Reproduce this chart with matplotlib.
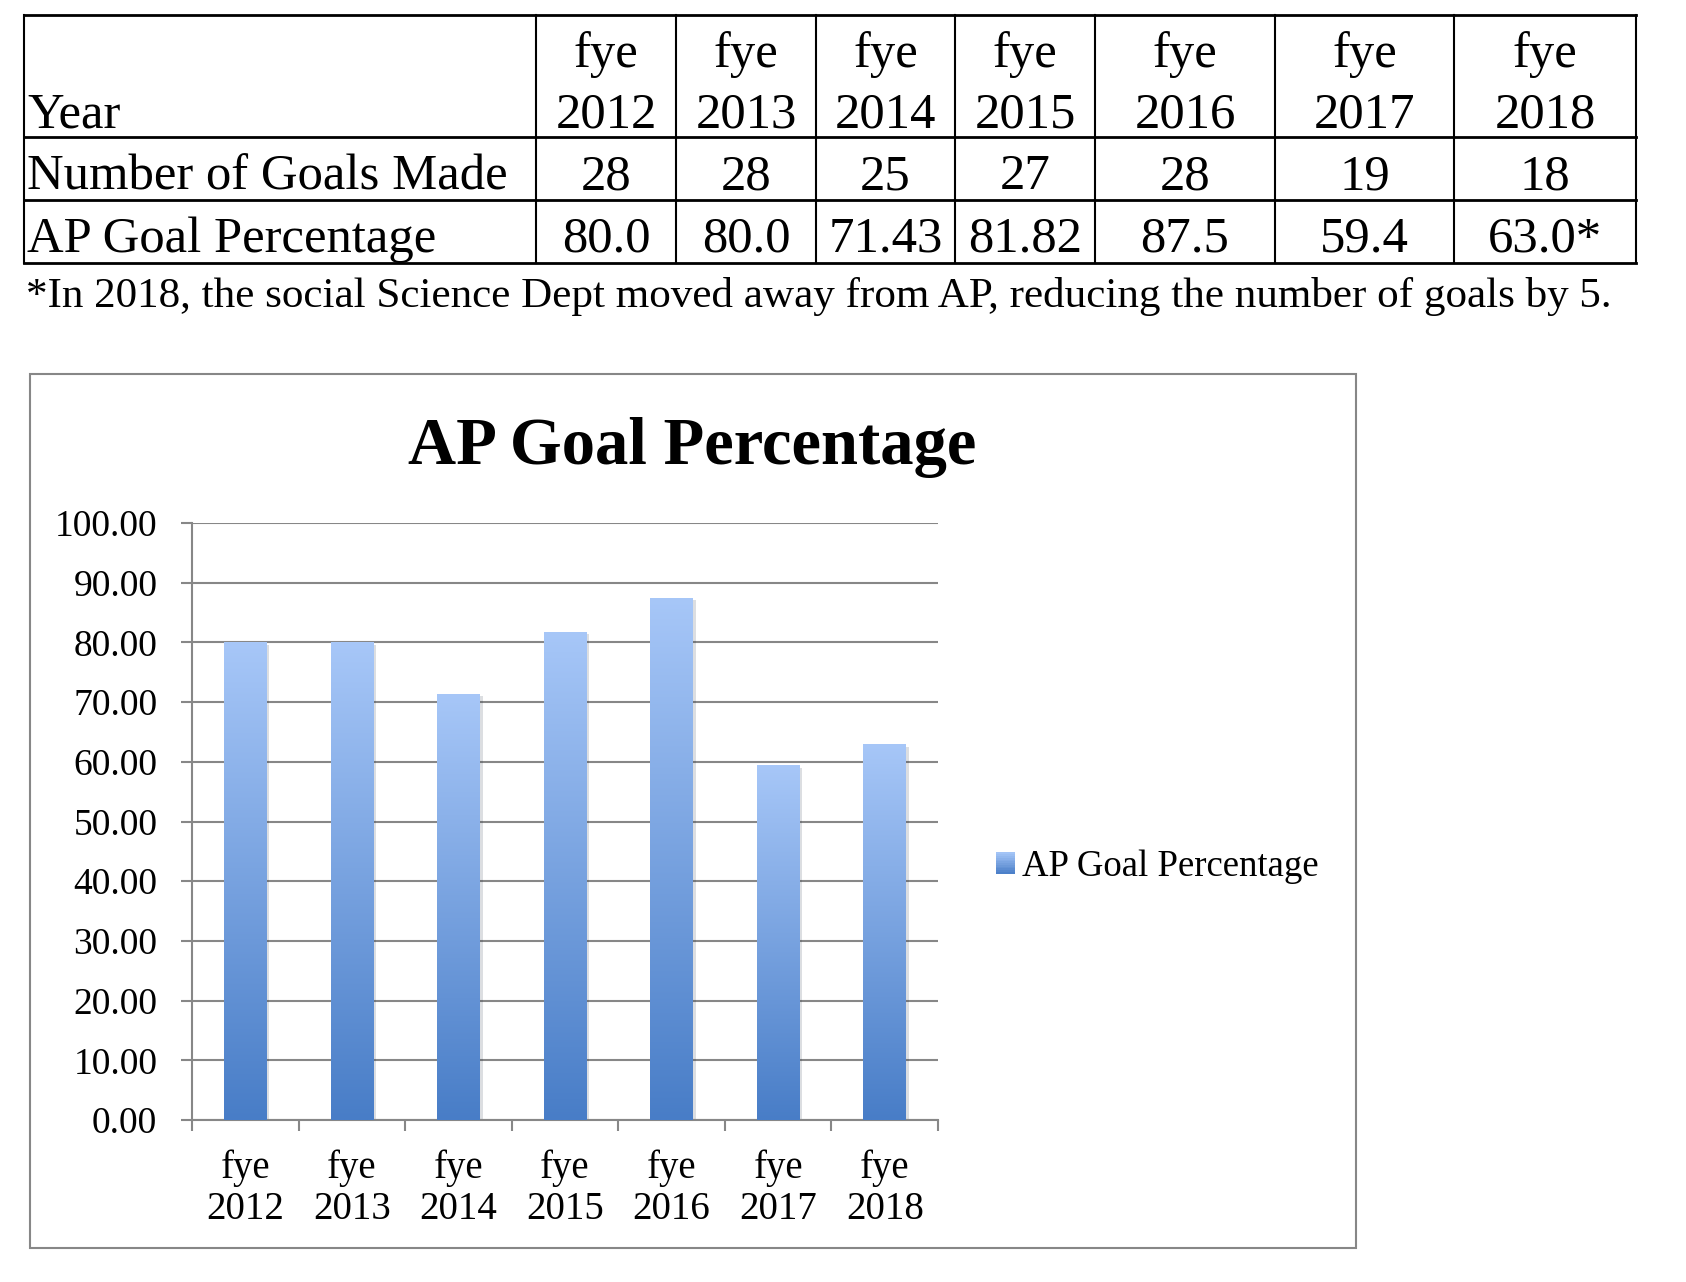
import matplotlib
matplotlib.use("Agg")
import matplotlib.pyplot as plt
import numpy as np
from matplotlib.patches import Rectangle
from matplotlib.legend_handler import HandlerPatch
from matplotlib import patheffects

years = ["2012", "2013", "2014", "2015", "2016", "2017", "2018"]
goals_made = ["28", "28", "25", "27", "28", "19", "18"]
pct_labels = ["80.0", "80.0", "71.43", "81.82", "87.5", "59.4", "63.0*"]
ap_pct = [80.0, 80.0, 71.43, 81.82, 87.5, 59.4, 63.0]
footnote = "*In 2018, the social Science Dept moved away from AP, reducing the number of goals by 5."

W, H = 1686, 1282
SERIF = "Liberation Serif"
TOP_C = np.array([0xA7, 0xC7, 0xF8]) / 255
BOT_C = np.array([0x48, 0x7D, 0xC7]) / 255
GRAY = "#878787"

fig = plt.figure(figsize=(W / 100, H / 100), dpi=100)

# ---- table drawn in pixel space ----
tab = fig.add_axes([0, 0, 1, 1])
tab.set_xlim(0, W)
tab.set_ylim(H, 0)
tab.axis("off")
tab.patch.set_alpha(0)

col_edges = [24, 536, 676, 816, 955, 1095, 1275, 1454, 1636]
row_edges = [15, 137, 200, 263]
for y in row_edges:
    tab.plot([col_edges[0], col_edges[-1]], [y, y], color="black", lw=2.0, solid_capstyle="projecting")
for x in col_edges:
    tab.plot([x, x], [row_edges[0], row_edges[-1]], color="black", lw=1.5)

fs = 36.5
tab.text(27, 127, "Year", fontsize=fs, family=SERIF, va="baseline")
tab.text(27, 189, "Number of Goals Made", fontsize=fs, family=SERIF, va="baseline")
tab.text(27, 252, "AP Goal Percentage", fontsize=fs, family=SERIF, va="baseline")
for i in range(len(years)):
    cx = (col_edges[i + 1] + col_edges[i + 2]) / 2
    tab.text(cx, 67, "fye", fontsize=fs, family=SERIF, ha="center", va="baseline")
    tab.text(cx, 127, years[i], fontsize=fs, family=SERIF, ha="center", va="baseline")
    tab.text(cx, 189, goals_made[i], fontsize=fs, family=SERIF, ha="center", va="baseline")
    tab.text(cx, 252, pct_labels[i], fontsize=fs, family=SERIF, ha="center", va="baseline")
tab.text(26, 307, footnote, fontsize=31.1, family=SERIF, va="baseline")

# chart frame
tab.add_patch(Rectangle((30, 374), 1356 - 30, 1248 - 374, fill=False, edgecolor=GRAY, lw=1.5))
tab.text(692, 447, "AP Goal Percentage", fontsize=48, family=SERIF, fontweight="bold",
         ha="center", va="center")

# ---- bar chart ----
ax = fig.add_axes([192 / W, (H - 1120) / H, (938 - 192) / W, (1120 - 523) / H])
x = np.arange(len(years))
bars = ax.bar(x, ap_pct, width=0.4, color=BOT_C, zorder=2,
              path_effects=[patheffects.SimplePatchShadow(offset=(2, -2), alpha=0.15), patheffects.Normal()])

grad = np.linspace(0, 1, 256)[:, None, None]
grad_img = BOT_C * (1 - grad) + TOP_C * grad
for b in bars:
    x0, w, h = b.get_x(), b.get_width(), b.get_height()
    im = ax.imshow(grad_img, extent=(x0, x0 + w, 0, h), origin="lower",
                   aspect="auto", zorder=3, interpolation="bilinear")
    im.set_clip_path(b)

ax.set_xlim(-0.5, len(years) - 0.5)
ax.set_ylim(0, 100)
ax.set_yticks(np.arange(0, 101, 10))
ax.set_yticklabels([f"{v:.2f}" for v in np.arange(0, 101, 10)], family=SERIF, fontsize=27)
ax.set_xticks(x)
ax.set_xticklabels([f"fye\n{y}" for y in years], family=SERIF, fontsize=28, linespacing=1.15)
ax.set_xticks(np.arange(-0.5, len(years), 1), minor=True)
ax.tick_params(axis="x", which="major", length=0, pad=21)
ax.tick_params(axis="x", which="minor", length=8, width=1.5, color=GRAY, direction="out")
ax.tick_params(axis="y", length=8, width=1.5, color=GRAY, pad=17)
ax.grid(axis="y", color=GRAY, lw=1.5, zorder=1)
ax.set_axisbelow(True)
for s in ["top", "right"]:
    ax.spines[s].set_visible(False)
for s in ["left", "bottom"]:
    ax.spines[s].set_color(GRAY)
    ax.spines[s].set_linewidth(1.5)


class GradientHandler(HandlerPatch):
    def create_artists(self, legend, orig_handle, xdescent, ydescent, width, height, fontsize, trans):
        n = 12
        arts = []
        for k in range(n):
            f = (k + 0.5) / n
            c = BOT_C * (1 - f) + TOP_C * f
            r = Rectangle((-xdescent, -ydescent + height * k / n), width, height / n + 0.3,
                          facecolor=c, edgecolor="none", transform=trans)
            arts.append(r)
        return arts


handle = Rectangle((0, 0), 1, 1, label="AP Goal Percentage")
leg = fig.legend([handle], ["AP Goal Percentage"], handler_map={Rectangle: GradientHandler()},
                 loc="center left", bbox_to_anchor=(978 / W, 1 - 867 / H), frameon=False,
                 prop={"family": SERIF, "size": 26.5}, handlelength=0.5, handleheight=0.5,
                 handletextpad=0.2, borderpad=0)

fig.savefig("out.png", dpi=100)
